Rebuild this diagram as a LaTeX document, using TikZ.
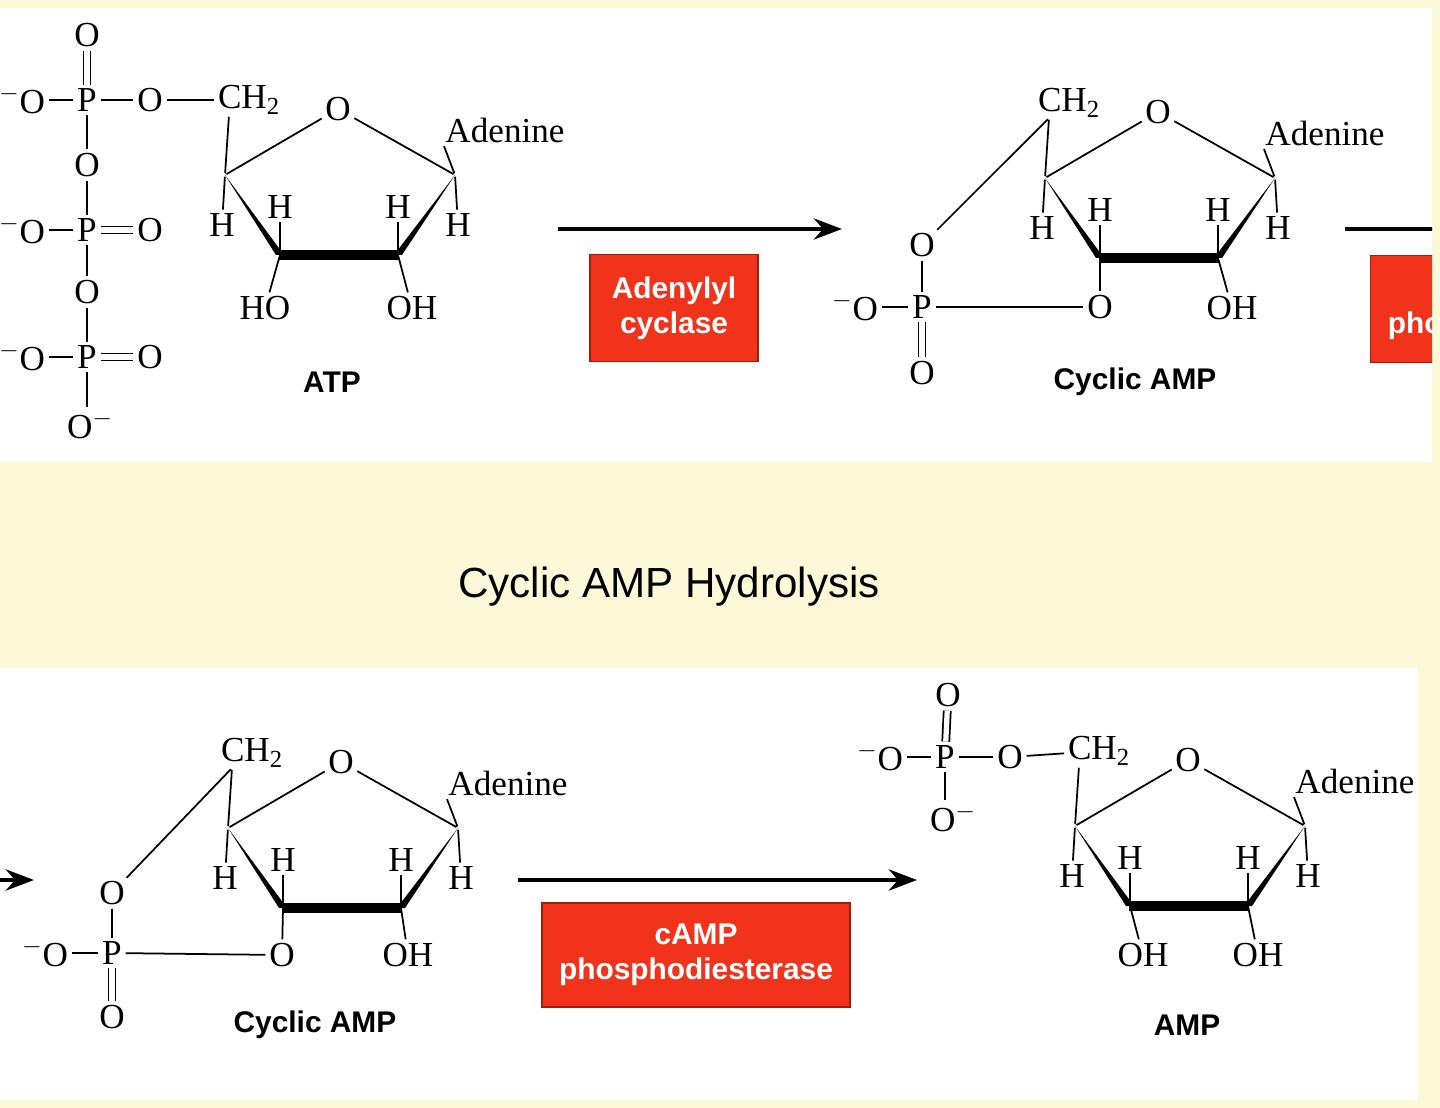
\documentclass[tikz,border=0pt]{standalone}
\usepackage{fontspec}
\setmainfont{Liberation Serif}
\setsansfont{Liberation Sans}
\usetikzlibrary{arrows.meta}
\definecolor{bgy}{HTML}{FDF9D8}
\definecolor{boxred}{HTML}{F2331C}
\definecolor{boxedge}{HTML}{A01E10}
\tikzset{
 chem/.style={font=\fontsize{20}{22}\selectfont, inner sep=1pt},
 bond/.style={line width=1pt, shorten <=1pt, shorten >=1pt},
 dbond/.style={bond, double, double distance=3pt},
 rxn/.style={line width=2.6pt, -{Stealth[length=16pt,width=12pt]}},
 enz/.style={fill=boxred, draw=boxedge, line width=0.8pt, text=white, font=\sffamily\bfseries\fontsize{17}{20}\selectfont, align=center},
 lbl/.style={font=\sffamily\bfseries\fontsize{17}{20}\selectfont},
 ribose/.pic={
  \coordinate (-c4) at (0,0); \coordinate (-c1) at (230,0);
  \coordinate (-c2) at (173,80); \coordinate (-c3) at (55,80);
  \coordinate (-cht) at (4,-60);
  \node[chem] (-o) at (113,-66) {O};
  \node[chem] (-ch) at (24,-75) {CH\textsubscript{2}};
  \node[chem] (-ad) at (280,-45) {Adenine};
  \draw[bond] (-c4) -- (-o); \draw[bond] (-o) -- (-c1);
  \draw[bond] (-c4) -- (-cht);
  \draw[bond] (-c1) -- (-ad.south west);
  \fill (0,0) -- (51,80) -- (59,80) -- cycle;
  \draw[line width=6pt] (54,80) -- (174,80);
  \fill (169,80) -- (177,80) -- (230,0) -- cycle;
  \node[chem] (-h4) at (-3,50) {H}; \draw[bond] (-c4) -- (-h4);
  \node[chem] (-h3) at (55,32) {H}; \draw[bond] (-c3) -- (-h3);
  \node[chem] (-h2) at (173,32) {H}; \draw[bond] (-c2) -- (-h2);
  \node[chem] (-h1) at (233,50) {H}; \draw[bond] (-c1) -- (-h1);
 }
}
\begin{document}
\begin{tikzpicture}[x=0.02cm,y=-0.02cm]
\fill[bgy] (0,0) rectangle (1440,1108);
\useasboundingbox (0,0) rectangle (1440,1108);
\fill[white] (0,8) rectangle (1432,462);
\fill[white] (0,668) rectangle (1418,1100);
\node[font=\sffamily\fontsize{24}{28}\selectfont] (title) at (669,587) {Cyclic AMP Hydrolysis};

% ---------- ATP ----------
\pic (r1) at (225,175) {ribose};
\node[chem] (aho) at (265,308) {HO}; \draw[bond] (r1-c3) -- (aho);
\node[chem] (aoh) at (412,308) {OH}; \draw[bond] (r1-c2) -- (aoh);
\node[chem] (p1) at (87,100) {P};
\node[chem] (o1t) at (87,35) {O};
\node[chem] (o1l) at (22,100) {$^{-}$O};
\node[chem] (o1r) at (150,100) {O};
\node[chem] (ob12) at (87,165) {O};
\node[chem] (p2) at (87,230) {P};
\node[chem] (o2l) at (22,230) {$^{-}$O};
\node[chem] (o2r) at (150,230) {O};
\node[chem] (ob23) at (87,292) {O};
\node[chem] (p3) at (87,357) {P};
\node[chem] (o3l) at (22,357) {$^{-}$O};
\node[chem] (o3r) at (150,357) {O};
\node[chem] (o3b) at (90,425) {O$^{-}$};
\draw[dbond] (p1) -- (o1t);
\draw[bond] (o1l) -- (p1); \draw[bond] (p1) -- (o1r); \draw[bond] (o1r) -- (r1-ch);
\draw[bond] (p1) -- (ob12); \draw[bond] (ob12) -- (p2);
\draw[bond] (o2l) -- (p2); \draw[dbond] (p2) -- (o2r);
\draw[bond] (p2) -- (ob23); \draw[bond] (ob23) -- (p3);
\draw[bond] (o3l) -- (p3); \draw[dbond] (p3) -- (o3r);
\draw[bond] (p3) -- (o3b.north west -| p3);
\node[lbl] (atp) at (332,382) {ATP};

% ---------- arrow 1 ----------
\coordinate (a1s) at (558,229); \coordinate (a1e) at (842,229);
\draw[rxn] (a1s) -- (a1e);
\node[enz, minimum width=168*0.02cm, minimum height=107*0.02cm] (e1) at (674,308) {Adenylyl\\cyclase};

% ---------- cAMP top ----------
\pic (r2) at (1045,178) {ribose};
\node[chem] (co) at (922,245) {O};
\node[chem] (cp) at (922,307) {P};
\node[chem] (col) at (855,307) {$^{-}$O};
\node[chem] (cob) at (922,373) {O};
\node[chem] (c3o) at (1100,307) {O};
\node[chem] (coh) at (1232,308) {OH};
\draw[bond] (co) -- (r2-cht);
\draw[bond] (co) -- (cp); \draw[bond] (col) -- (cp); \draw[dbond] (cp) -- (cob);
\draw[bond] (cp) -- (c3o); \draw[bond] (c3o) -- (r2-c3); \draw[bond] (r2-c2) -- (coh);
\node[lbl] (camp1) at (1135,382) {Cyclic AMP};

% ---------- arrow 2 (clipped) ----------
\begin{scope}
\clip (0,8) rectangle (1432,462);
\coordinate (a2s) at (1345,229); \coordinate (a2e) at (1640,229);
\draw[rxn] (a2s) -- (a2e);
\node[enz, anchor=north west, minimum width=308*0.02cm, minimum height=107*0.02cm, text width=280*0.02cm] (e2) at (1370,255) {cAMP\\phosphodiesterase};
\end{scope}

% ---------- bottom left arrow tip ----------
\coordinate (a3s) at (-60,880); \coordinate (a3e) at (34,880);
\draw[rxn] (a3s) -- (a3e);

% ---------- cAMP bottom ----------
\pic (r3) at (228,828) {ribose};
\node[chem] (bo) at (112,893) {O};
\node[chem] (bp) at (112,953) {P};
\node[chem] (bol) at (45,953) {$^{-}$O};
\node[chem] (bob) at (112,1017) {O};
\node[chem] (b3o) at (282,955) {O};
\node[chem] (boh) at (408,955) {OH};
\draw[bond] (bo) -- (r3-cht);
\draw[bond] (bo) -- (bp); \draw[bond] (bol) -- (bp); \draw[dbond] (bp) -- (bob);
\draw[bond] (bp) -- (b3o); \draw[bond] (b3o) -- (r3-c3); \draw[bond] (r3-c2) -- (boh);
\node[lbl] (camp2) at (315,1025) {Cyclic AMP};

% ---------- arrow 3 ----------
\coordinate (a4s) at (518,880); \coordinate (a4e) at (917,880);
\draw[rxn] (a4s) -- (a4e);
\node[enz, minimum width=308*0.02cm, minimum height=104*0.02cm] (e3) at (696,955) {cAMP\\phosphodiesterase};

% ---------- AMP ----------
\pic (r4) at (1075,826) {ribose};
\node[chem] (mp) at (945,757) {P};
\node[chem] (mot) at (948,695) {O};
\node[chem] (mol) at (880,757) {$^{-}$O};
\node[chem] (mor) at (1010,757) {O};
\node[chem] (mob) at (953,818) {O$^{-}$};
\draw[dbond] (mp) -- (mot);
\draw[bond] (mol) -- (mp); \draw[bond] (mp) -- (mor); \draw[bond] (mor) -- (r4-ch);
\draw[bond] (mp) -- (mob.north west -| mp);
\node[chem] (moh1) at (1143,955) {OH}; \draw[bond] (r4-c3) -- (moh1);
\node[chem] (moh2) at (1258,955) {OH}; \draw[bond] (r4-c2) -- (moh2);
\node[lbl] (amp) at (1187,1025) {AMP};
\end{tikzpicture}
\end{document}
